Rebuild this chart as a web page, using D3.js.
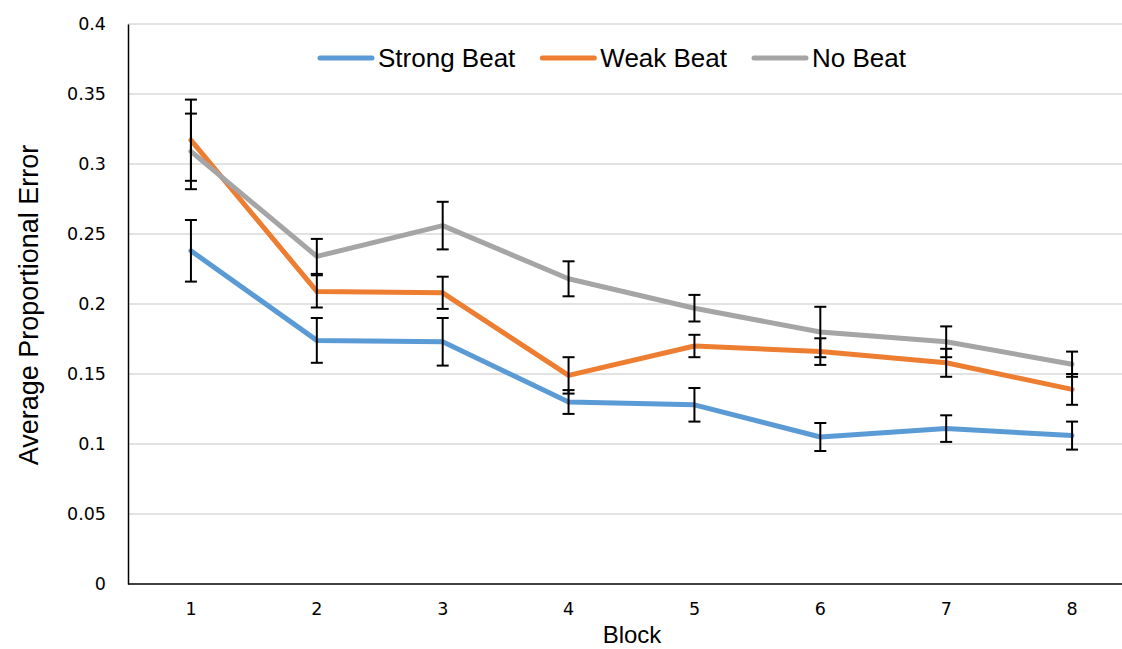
<!DOCTYPE html>
<html>
<head>
<meta charset="utf-8">
<script src="https://cdn.jsdelivr.net/npm/d3@7"></script>
<style>
  body { margin: 0; background: #fff; }
  svg { display: block; font-family: "Liberation Sans", Arial, sans-serif; }
</style>
</head>
<body>
<div id="chart"></div>
<script>
"use strict";

var blocks = [1, 2, 3, 4, 5, 6, 7, 8];

var strongBeat = [0.238, 0.174, 0.173, 0.130, 0.128, 0.105, 0.111, 0.106];
var strongErr  = [0.022, 0.016, 0.017, 0.0085, 0.012, 0.010, 0.0095, 0.010];

var weakBeat = [0.317, 0.209, 0.208, 0.149, 0.170, 0.166, 0.158, 0.139];
var weakErr  = [0.029, 0.0115, 0.0115, 0.013, 0.008, 0.0095, 0.010, 0.011];

var noBeat = [0.309, 0.234, 0.256, 0.218, 0.197, 0.180, 0.173, 0.157];
var noErr  = [0.027, 0.0125, 0.017, 0.0125, 0.0095, 0.018, 0.011, 0.009];

var yTicks = [0, 0.05, 0.1, 0.15, 0.2, 0.25, 0.3, 0.35, 0.4];
var yTickLabels = ["0", "0.05", "0.1", "0.15", "0.2", "0.25", "0.3", "0.35", "0.4"];

var seriesNames = ["Strong Beat", "Weak Beat", "No Beat"];
var seriesColors = ["#5B9BD5", "#ED7D31", "#A5A5A5"];

function chart() {
    var w = 1122;
    var h = 649;
    var left = 128, right = 1135, top = 24, bottom = 584;
    var tickFont = "DejaVu Sans, Verdana, sans-serif";

    var svg = d3.select("#chart")
                .append("svg")
                .attr("width", w)
                .attr("height", h);

    var x = d3.scaleBand()
              .domain(blocks)
              .range([left, right])
              .padding(0);

    var y = d3.scaleLinear()
              .domain([0, 0.4])
              .range([bottom, top]);

    var cx = function(d) { return x(d) + x.bandwidth() / 2; };

    // gridlines
    svg.append("g")
       .selectAll("line")
       .data(yTicks.slice(1))
       .enter()
       .append("line")
       .attr("x1", left)
       .attr("x2", w)
       .attr("y1", function(d) { return y(d); })
       .attr("y2", function(d) { return y(d); })
       .attr("stroke", "#d9d9d9")
       .attr("stroke-width", 1.5);

    // y axis
    var yAxis = svg.append("g")
       .attr("transform", "translate(" + left + ",0)")
       .call(d3.axisLeft(y)
               .tickValues(yTicks)
               .tickSize(0)
               .tickPadding(22)
               .tickFormat(function(d, i) { return yTickLabels[i]; }));
    yAxis.select(".domain").attr("stroke", "#000").attr("stroke-width", 1.5);
    yAxis.selectAll("text").attr("font-size", 17.5).attr("fill", "#000")
         .attr("font-family", tickFont);

    // x axis
    var xAxis = svg.append("g")
       .attr("transform", "translate(0," + bottom + ")")
       .call(d3.axisBottom(x).tickSize(0).tickPadding(19));
    xAxis.select(".domain").attr("d", "M" + left + ",0H" + w)
         .attr("stroke", "#000").attr("stroke-width", 1.5);
    xAxis.selectAll("text").attr("font-size", 17.5).attr("fill", "#000")
         .attr("font-family", tickFont);

    var series = [
        { vals: strongBeat, err: strongErr },
        { vals: weakBeat, err: weakErr },
        { vals: noBeat, err: noErr }
    ];

    var line = d3.line()
                 .x(function(d, i) { return cx(blocks[i]); })
                 .y(function(d) { return y(d); });

    series.forEach(function(s, k) {
        svg.append("path")
           .datum(s.vals)
           .attr("d", line)
           .attr("fill", "none")
           .attr("stroke", seriesColors[k])
           .attr("stroke-width", 5)
           .attr("stroke-linejoin", "round")
           .attr("stroke-linecap", "round");
    });

    // error bars drawn on top
    series.forEach(function(s) {
        var g = svg.append("g").attr("stroke", "#000").attr("stroke-width", 2);
        blocks.forEach(function(b, i) {
            var xc = cx(b);
            var hi = y(s.vals[i] + s.err[i]);
            var lo = y(s.vals[i] - s.err[i]);
            g.append("line").attr("x1", xc).attr("x2", xc).attr("y1", hi).attr("y2", lo);
            g.append("line").attr("x1", xc - 6).attr("x2", xc + 6).attr("y1", hi).attr("y2", hi);
            g.append("line").attr("x1", xc - 6).attr("x2", xc + 6).attr("y1", lo).attr("y2", lo);
        });
    });

    // legend
    var lx = 320;
    var ly = 58;
    seriesNames.forEach(function(name, k) {
        svg.append("line")
           .attr("x1", lx).attr("x2", lx + 52)
           .attr("y1", ly).attr("y2", ly)
           .attr("stroke", seriesColors[k])
           .attr("stroke-width", 5)
           .attr("stroke-linecap", "round");
        var t = svg.append("text")
           .attr("x", lx + 58)
           .attr("y", ly + 9)
           .attr("font-size", 26)
           .attr("fill", "#000")
           .text(name);
        lx = lx + 58 + t.node().getComputedTextLength() + 27;
    });

    // axis titles
    svg.append("text")
       .attr("transform", "translate(38,305) rotate(-90)")
       .attr("text-anchor", "middle")
       .attr("font-size", 27)
       .attr("fill", "#000")
       .text("Average Proportional Error");

    svg.append("text")
       .attr("x", 632)
       .attr("y", 643)
       .attr("text-anchor", "middle")
       .attr("font-size", 24)
       .attr("fill", "#000")
       .text("Block");
}

window.onload = chart;
</script>
</body>
</html>
